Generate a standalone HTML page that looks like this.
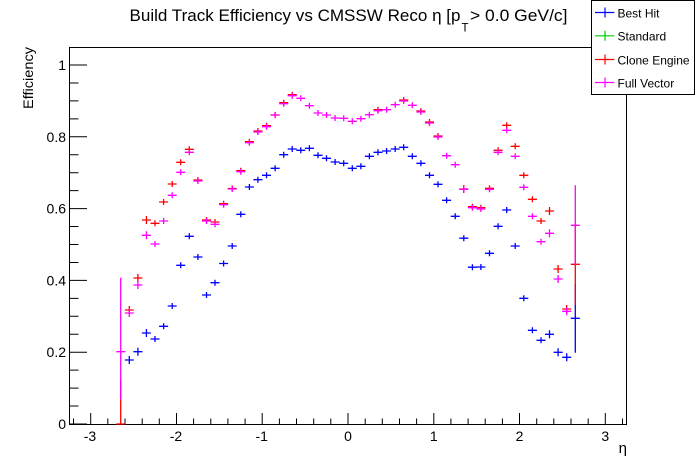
<!DOCTYPE html>
<html>
<head>
<meta charset="utf-8">
<style>
html,body{margin:0;padding:0;background:#fff;}
svg{display:block;}
text{font-family:"Liberation Sans",Arial,sans-serif;fill:#000;}
</style>
</head>
<body>
<svg width="696" height="472" viewBox="0 0 696 472" xmlns="http://www.w3.org/2000/svg">
<rect x="0" y="0" width="696" height="472" fill="#fff"/>

<text x="129.5" y="21" font-size="16.5" textLength="331" lengthAdjust="spacingAndGlyphs">Build Track Efficiency vs CMSSW Reco η [p</text>
<text x="461.5" y="31.5" font-size="11.5">T</text>
<text x="470" y="21" font-size="16.5" textLength="97.5" lengthAdjust="spacingAndGlyphs">&gt; 0.0 GeV/c]</text>

<rect x="69.5" y="47.5" width="557" height="377" fill="none" stroke="#000" stroke-width="1"/>

<path stroke="#000" stroke-width="1" fill="none" d="M70,424H87M70,406.05H78.5M70,388.1H78.5M70,370.15H78.5M70,352.2H87M70,334.25H78.5M70,316.3H78.5M70,298.35H78.5M70,280.4H87M70,262.45H78.5M70,244.5H78.5M70,226.55H78.5M70,208.6H87M70,190.65H78.5M70,172.7H78.5M70,154.75H78.5M70,136.8H87M70,118.85H78.5M70,100.9H78.5M70,82.95H78.5M70,65H87"/>

<path stroke="#000" stroke-width="1" fill="none" d="M73.5,424V418.5M90.7,424V413M107.8,424V418.5M125,424V418.5M142.2,424V418.5M159.3,424V418.5M176.5,424V413M193.6,424V418.5M210.8,424V418.5M227.9,424V418.5M245.1,424V418.5M262.2,424V413M279.4,424V418.5M296.5,424V418.5M313.7,424V418.5M330.8,424V418.5M348,424V413M365.2,424V418.5M382.3,424V418.5M399.5,424V418.5M416.6,424V418.5M433.8,424V413M450.9,424V418.5M468.1,424V418.5M485.2,424V418.5M502.4,424V418.5M519.5,424V413M536.7,424V418.5M553.8,424V418.5M571,424V418.5M588.2,424V418.5M605.3,424V413M622.5,424V418.5"/>

<g font-size="14" text-anchor="end">
<text x="66" y="429">0</text>
<text x="66" y="357.2">0.2</text>
<text x="66" y="285.4">0.4</text>
<text x="66" y="213.6">0.6</text>
<text x="66" y="141.8">0.8</text>
<text x="66" y="70">1</text>
</g>

<g font-size="14" text-anchor="middle">
<text x="90" y="441">-3</text>
<text x="176" y="441">-2</text>
<text x="261.7" y="441">-1</text>
<text x="348" y="441">0</text>
<text x="433.8" y="441">1</text>
<text x="519.5" y="441">2</text>
<text x="605.3" y="441">3</text>
</g>

<text transform="translate(33,47) rotate(-90)" font-size="14" text-anchor="end" textLength="62" lengthAdjust="spacingAndGlyphs">Efficiency</text>
<text x="627" y="453" font-size="15" text-anchor="end">η</text>

<path stroke="#0000ff" stroke-width="1.3" fill="none" d="M124.8,360h9M129.3,356v8M133.4,351.7h9M137.9,347.7v8M141.9,333h9M146.4,329v8M150.5,339h9M155,336v6M159.1,326.3h9M163.6,323.3v6M167.7,306h9M172.2,303v6M176.2,265.3h9M180.7,262.3v6M184.8,236.3h9M189.3,233.3v6M193.4,257h9M197.9,254v6M202,295h9M206.5,292v6M210.5,282.7h9M215,279.7v6M219.1,263.5h9M223.6,260.5v6M227.7,246h9M232.2,243v6M236.3,214.3h9M240.8,211.3v6M244.9,187h9M249.4,184v6M253.4,179.7h9M257.9,176.7v6M262,175.3h9M266.5,172.3v6M270.6,168.3h9M275.1,165.3v6M279.2,154.7h9M283.7,151.7v6M287.7,149h9M292.2,146v6M296.3,150.3h9M300.8,147.3v6M304.9,148.3h9M309.4,145.3v6M313.5,155.3h9M318,152.3v6M322,158.3h9M326.5,155.3v6M330.6,162h9M335.1,159v6M339.2,163.3h9M343.7,160.3v6M347.8,168.3h9M352.3,165.3v6M356.4,166.3h9M360.9,163.3v6M364.9,156.3h9M369.4,153.3v6M373.5,152.3h9M378,149.3v6M382.1,151h9M386.6,148v6M390.7,149h9M395.2,146v6M399.2,147.3h9M403.7,144.3v6M407.8,156.3h9M412.3,153.3v6M416.4,163.3h9M420.9,160.3v6M425,175.3h9M429.5,172.3v6M433.5,184.3h9M438,181.3v6M442.1,200.3h9M446.6,197.3v6M450.7,216.3h9M455.2,213.3v6M459.3,238.2h9M463.8,235.2v6M467.9,267.2h9M472.4,264.2v6M476.4,267h9M480.9,264v6M485,253.3h9M489.5,250.3v6M493.6,226.3h9M498.1,223.3v6M502.2,210h9M506.7,207v6M510.7,246h9M515.2,243v6M519.3,298.3h9M523.8,295.3v6M527.9,330.3h9M532.4,327.3v6M536.5,340.3h9M541,337.3v6M545,334.3h9M549.5,330.3v8M553.6,352.3h9M558.1,348.3v8M562.2,357.3h9M566.7,353.3v8M570.8,318.3h9M575.3,284v68.7"/>

<path stroke="#ff0000" stroke-width="1.3" fill="none" d="M116.2,424h9M120.7,380V424M124.8,310h9M129.3,306v8M133.4,278h9M137.9,274v8M141.9,220h9M146.4,216v8M150.5,223.3h9M155,220.3v6M159.1,202h9M163.6,199v6M167.7,184h9M172.2,181v6M176.2,162.3h9M180.7,159.3v6M184.8,149.3h9M189.3,146.3v6M193.4,180h9M197.9,177v6M202,220h9M206.5,217v6M210.5,222h9M215,219v6M219.1,203.7h9M223.6,200.7v6M227.7,188.5h9M232.2,185.5v6M236.3,170.7h9M240.8,167.7v6M244.9,141.7h9M249.4,138.7v6M253.4,131h9M257.9,128v6M262,125.7h9M266.5,122.7v6M270.6,115h9M275.1,112v6M279.2,102.7h9M283.7,99.7v6M287.7,94.7h9M292.2,91.7v6M373.5,109.7h9M378,106.7v6M399.2,100h9M403.7,97v6M416.4,111h9M420.9,108v6M425,122h9M429.5,119v6M433.5,136h9M438,133v6M459.3,189h9M463.8,185v8M467.9,206.7h9M472.4,203.7v6M476.4,207.7h9M480.9,204.7v6M485,188.3h9M489.5,185.3v6M493.6,150.3h9M498.1,147.3v6M502.2,125.3h9M506.7,122.3v6M510.7,146.3h9M515.2,143.3v6M519.3,175.3h9M523.8,172.3v6M527.9,199.3h9M532.4,196.3v6M536.5,221h9M541,218v6M545,211h9M549.5,207v8M553.6,269h9M558.1,265v8M562.2,309h9M566.7,305v8M570.8,264.3h9M575.3,223.6V305"/>

<path stroke="#ff00ff" stroke-width="1.3" fill="none" d="M116.2,351.7h9M120.7,277.7V399.3M124.8,313h9M129.3,309v8M133.4,285h9M137.9,281v8M141.9,235.3h9M146.4,231.3v8M150.5,244h9M155,241v6M159.1,221h9M163.6,218v6M167.7,195.3h9M172.2,192.3v6M176.2,172.3h9M180.7,169.3v6M184.8,152.3h9M189.3,149.3v6M193.4,181h9M197.9,178v6M202,221h9M206.5,218v6M210.5,224.3h9M215,221.3v6M219.1,204.7h9M223.6,201.7v6M227.7,189h9M232.2,186v6M236.3,171.7h9M240.8,168.7v6M244.9,142.7h9M249.4,139.7v6M253.4,132h9M257.9,129v6M262,126.7h9M266.5,123.7v6M270.6,115h9M275.1,112v6M279.2,103.7h9M283.7,100.7v6M287.7,95.7h9M292.2,92.7v6M296.3,98.3h9M300.8,95.3v6M304.9,105.7h9M309.4,102.7v6M313.5,113h9M318,110v6M322,115h9M326.5,112v6M330.6,118h9M335.1,115v6M339.2,118.3h9M343.7,115.3v6M347.8,121.3h9M352.3,118.3v6M356.4,118.7h9M360.9,115.7v6M364.9,114.7h9M369.4,111.7v6M373.5,110.7h9M378,107.7v6M382.1,109.7h9M386.6,106.7v6M390.7,104.7h9M395.2,101.7v6M399.2,101h9M403.7,98v6M407.8,105.3h9M412.3,102.3v6M416.4,112h9M420.9,109v6M425,123h9M429.5,120v6M433.5,137h9M438,134v6M442.1,155.7h9M446.6,152.7v6M450.7,164.7h9M455.2,161.7v6M459.3,189.3h9M463.8,186.3v6M467.9,207.7h9M472.4,204.7v6M476.4,209h9M480.9,206v6M485,189.3h9M489.5,186.3v6M493.6,152.3h9M498.1,149.3v6M502.2,130.3h9M506.7,127.3v6M510.7,156.3h9M515.2,153.3v6M519.3,187.3h9M523.8,184.3v6M527.9,216.3h9M532.4,213.3v6M536.5,241.7h9M541,238.7v6M545,233.3h9M549.5,229.3v8M553.6,279h9M558.1,275v8M562.2,311.3h9M566.7,307.3v8M570.8,225.3h9M575.3,185.3V265"/>

<rect x="591.5" y="0.5" width="103" height="94" fill="#fff" stroke="#000" stroke-width="1"/>
<path stroke="#0000ff" stroke-width="1.2" d="M595,12.5H614.3M605,7.5V17.5"/>
<path stroke="#00cc00" stroke-width="1.2" d="M595,35.8H614.3M605,30.8V40.8"/>
<path stroke="#ff0000" stroke-width="1.2" d="M595,59.5H614.3M605,54.5V64.5"/>
<path stroke="#ff00ff" stroke-width="1.2" d="M595,82.5H614.3M605,77.5V87.5"/>
<g font-size="12">
<text x="617.5" y="17.3">Best Hit</text>
<text x="617.5" y="40.6">Standard</text>
<text x="617.5" y="64.3">Clone Engine</text>
<text x="617.5" y="87.3">Full Vector</text>
</g>
</svg>
</body>
</html>
